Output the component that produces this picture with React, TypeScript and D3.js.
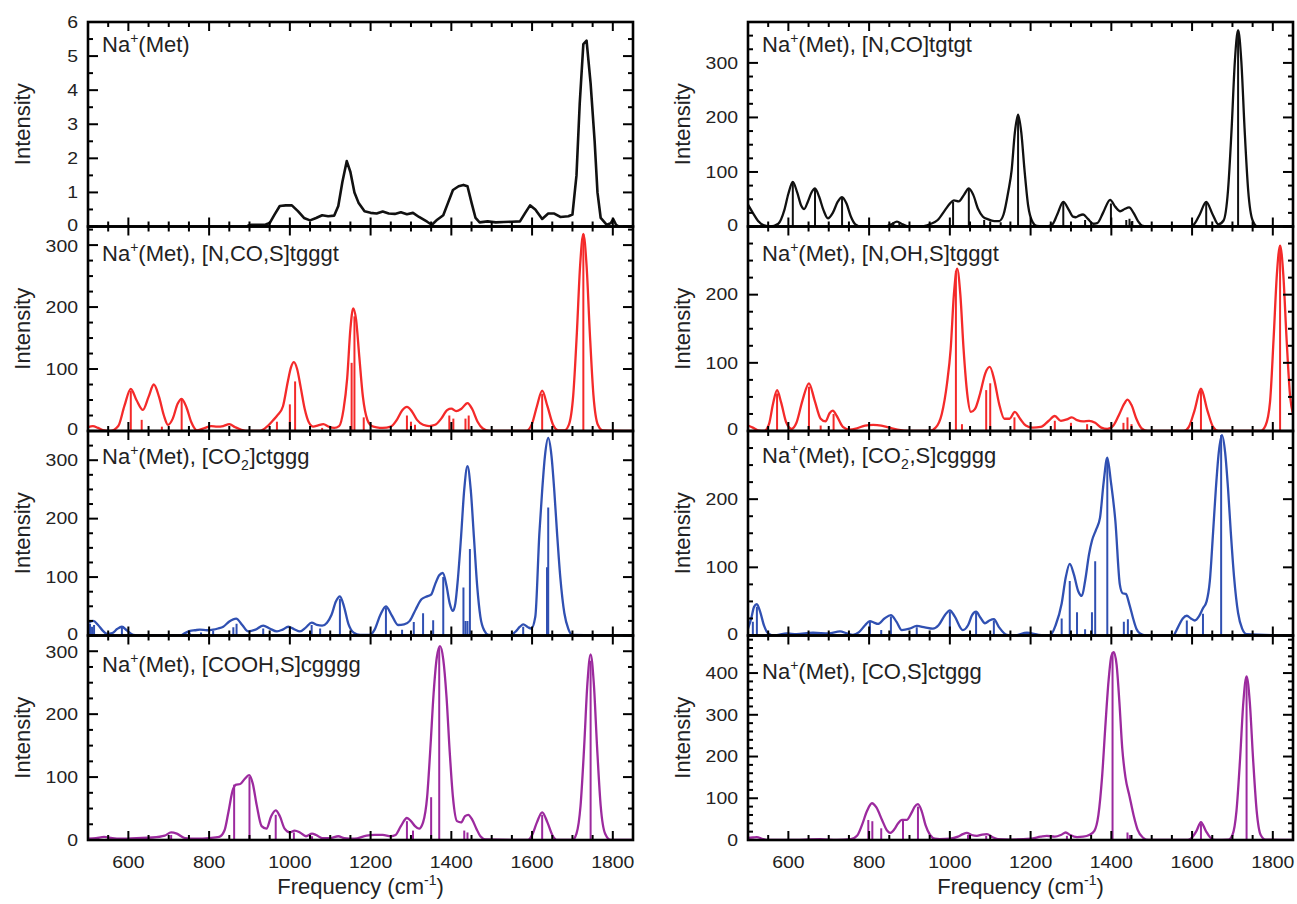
import React from "react";
import * as d3 from "d3";

type Pt = [number, number];

// Na+(Met) experimental IRMPD trace
const expMet: Pt[] = [
  [895, 0.02], [905, 0.05], [940, 0.06], [950, 0.1], [962, 0.35], [975, 0.6], [990, 0.62], [1005, 0.62],
  [1020, 0.45], [1035, 0.25], [1050, 0.18], [1065, 0.25], [1080, 0.33], [1095, 0.3], [1110, 0.32], [1120, 0.6],
  [1130, 1.3], [1141, 1.92], [1150, 1.6], [1160, 1.0], [1170, 0.7], [1185, 0.45], [1200, 0.4], [1215, 0.38],
  [1230, 0.44], [1245, 0.38], [1260, 0.37], [1275, 0.42], [1290, 0.36], [1305, 0.4], [1320, 0.28], [1340, 0.14],
  [1352, 0.05], [1365, 0.2], [1380, 0.33], [1392, 0.7], [1404, 1.07], [1418, 1.18], [1430, 1.22], [1440, 1.18],
  [1450, 0.7], [1460, 0.25], [1470, 0.12], [1490, 0.15], [1510, 0.12], [1530, 0.13], [1550, 0.14], [1570, 0.15],
  [1583, 0.4], [1595, 0.62], [1608, 0.5], [1625, 0.22], [1640, 0.38], [1655, 0.38], [1670, 0.28], [1690, 0.3],
  [1700, 0.35], [1710, 1.5], [1718, 3.6], [1727, 5.35], [1735, 5.45], [1745, 4.2], [1755, 2.5], [1762, 1.0],
  [1770, 0.25], [1785, 0.05], [1795, 0.1], [1801, 0.22], [1808, 0.05], [1815, 0.0],
];

// [N,CO]tgtgt
const tgtgtCurve: Pt[] = [
  [500, 40], [512, 25], [525, 10], [540, 2], [555, 0], [575, 5], [590, 30], [600, 60], [611, 82], [622, 62],
  [632, 38], [639, 32], [648, 45], [657, 62], [666, 70], [676, 55], [687, 30], [698, 15], [710, 25], [722, 45],
  [733, 54], [744, 42], [755, 18], [766, 4], [780, 0], [840, 0], [855, 4], [869, 9], [883, 4], [898, 0],
  [930, 0], [950, 4], [970, 12], [988, 30], [1000, 42], [1010, 48], [1022, 46], [1035, 58], [1047, 70], [1058, 58],
  [1070, 32], [1082, 18], [1095, 13], [1110, 10], [1122, 10], [1133, 22], [1145, 65], [1153, 103], [1161, 172],
  [1169, 205], [1177, 172], [1185, 103], [1194, 38], [1205, 8], [1215, 1], [1240, 0], [1255, 5], [1266, 22],
  [1281, 45], [1295, 30], [1305, 18], [1312, 17], [1320, 20], [1330, 22], [1342, 14], [1355, 5], [1365, 6],
  [1380, 26], [1397, 49], [1410, 36], [1422, 28], [1433, 32], [1444, 35], [1455, 25], [1466, 10], [1478, 1],
  [1495, 0], [1595, 0], [1605, 4], [1619, 22], [1635, 45], [1651, 22], [1665, 4], [1678, 11], [1689, 66],
  [1698, 180], [1706, 303], [1714, 360], [1722, 303], [1730, 180], [1739, 66], [1750, 11], [1762, 0], [1850, 0],
];
const tgtgtSticks: Pt[] = [
  [611, 80], [666, 70], [733, 54], [860, 8], [875, 8], [1008, 45], [1047, 70], [1085, 12], [1126, 8], [1169, 205],
  [1281, 43], [1335, 12], [1399, 42], [1437, 12], [1445, 14], [1452, 10], [1635, 45], [1714, 360],
];

// [N,CO,S]tgggt
const ncosCurve: Pt[] = [
  [500, 6], [512, 8], [525, 5], [540, 1], [555, 0], [575, 8], [590, 40], [606, 68], [620, 50], [636, 34],
  [650, 55], [663, 75], [676, 55], [688, 25], [698, 10], [710, 20], [722, 44], [732, 52], [744, 38], [756, 14],
  [770, 1], [790, 5], [805, 8], [820, 7], [835, 8], [850, 11], [865, 6], [880, 2], [900, 0], [926, 0],
  [945, 8], [958, 17], [970, 26], [983, 40], [995, 80], [1003, 103], [1010, 111], [1018, 100], [1027, 70],
  [1037, 35], [1047, 14], [1058, 7], [1070, 9], [1083, 11], [1096, 7], [1110, 5], [1122, 8], [1133, 35],
  [1142, 85], [1150, 165], [1157, 198], [1164, 180], [1172, 120], [1181, 55], [1192, 18], [1203, 8], [1215, 6],
  [1230, 5], [1250, 7], [1265, 18], [1278, 33], [1290, 39], [1302, 32], [1315, 18], [1330, 10], [1345, 8],
  [1360, 10], [1375, 20], [1390, 34], [1400, 36], [1412, 32], [1425, 36], [1440, 45], [1452, 35], [1465, 15],
  [1478, 4], [1495, 0], [1585, 0], [1600, 12], [1612, 40], [1625, 65], [1638, 40], [1652, 10], [1665, 1],
  [1680, 1], [1691, 10], [1702, 58], [1711, 159], [1719, 267], [1727, 318], [1735, 267], [1743, 159],
  [1752, 58], [1763, 10], [1775, 1], [1850, 0],
];
const ncosSticks: Pt[] = [
  [606, 65], [633, 18], [683, 7], [732, 50], [968, 15], [1000, 43], [1013, 80], [1080, 5], [1153, 110],
  [1160, 185], [1183, 22], [1290, 25], [1300, 15], [1310, 10], [1395, 25], [1405, 20], [1435, 20], [1443, 25],
  [1625, 60], [1727, 318],
];

// [N,OH,S]tgggt
const nohsCurve: Pt[] = [
  [500, 8], [512, 5], [525, 1], [540, 0], [552, 10], [562, 40], [572, 60], [582, 42], [595, 12], [608, 3],
  [620, 12], [635, 45], [651, 70], [665, 45], [680, 18], [692, 14], [702, 26], [710, 30], [720, 22], [735, 6],
  [750, 2], [770, 4], [790, 8], [810, 9], [830, 8], [850, 5], [870, 2], [900, 0], [950, 0], [965, 5],
  [980, 25], [993, 70], [1002, 120], [1010, 200], [1018, 238], [1026, 200], [1034, 120], [1043, 55], [1052, 28],
  [1062, 32], [1075, 55], [1088, 85], [1099, 94], [1110, 75], [1122, 40], [1135, 18], [1148, 18], [1161, 28],
  [1174, 18], [1188, 8], [1205, 5], [1225, 6], [1245, 15], [1260, 22], [1275, 15], [1290, 17], [1302, 20],
  [1315, 16], [1330, 14], [1345, 15], [1360, 12], [1375, 5], [1390, 3], [1405, 8], [1420, 25], [1432, 40],
  [1440, 46], [1450, 38], [1462, 18], [1475, 4], [1490, 0], [1580, 0], [1592, 6], [1606, 30], [1622, 62],
  [1638, 30], [1652, 6], [1665, 0], [1770, 0], [1782, 8], [1793, 42], [1802, 136], [1810, 229], [1818, 272],
  [1826, 229], [1834, 136], [1843, 50], [1850, 25],
];
const nohsSticks: Pt[] = [
  [572, 55], [651, 65], [680, 8], [712, 25], [1015, 235], [1030, 10], [1090, 60], [1100, 70], [1160, 20],
  [1260, 15], [1300, 12], [1340, 10], [1430, 12], [1440, 20], [1450, 10], [1622, 60], [1818, 272],
];

// [CO2-]ctggg
const co2Curve: Pt[] = [
  [500, 22], [513, 25], [525, 18], [537, 8], [547, 3], [560, 4], [572, 11], [584, 15], [596, 9], [612, 1],
  [630, 0], [728, 0], [740, 4], [753, 8], [765, 9], [777, 10], [795, 9], [810, 10], [822, 12], [835, 15],
  [850, 24], [867, 29], [882, 18], [897, 7], [915, 10], [934, 17], [950, 12], [968, 7], [982, 10], [996, 15],
  [1010, 11], [1025, 7], [1040, 14], [1054, 22], [1067, 18], [1080, 17], [1092, 22], [1103, 35], [1114, 58],
  [1124, 67], [1134, 50], [1145, 20], [1158, 5], [1174, 1], [1198, 1], [1210, 10], [1224, 35], [1238, 50],
  [1252, 35], [1268, 18], [1283, 19], [1297, 25], [1312, 45], [1326, 62], [1340, 67], [1350, 70], [1360, 88],
  [1370, 103], [1379, 107], [1388, 85], [1396, 55], [1404, 42], [1410, 55], [1416, 95], [1424, 168],
  [1432, 250], [1440, 290], [1448, 250], [1456, 168], [1464, 85], [1472, 32], [1482, 8], [1492, 1], [1545, 0],
  [1558, 6], [1570, 15], [1578, 19], [1590, 14], [1598, 12], [1608, 32], [1618, 174], [1625, 248],
  [1632, 308], [1640, 338], [1648, 308], [1655, 248], [1662, 174], [1670, 99], [1680, 38], [1690, 11],
  [1700, 1], [1850, 0],
];
const co2Sticks: Pt[] = [
  [505, 20], [510, 15], [515, 18], [584, 14], [752, 5], [780, 5], [810, 8], [860, 14], [868, 20], [934, 12],
  [1000, 10], [1054, 18], [1075, 12], [1124, 63], [1238, 48], [1278, 10], [1307, 23], [1330, 38], [1355, 26],
  [1380, 100], [1430, 82], [1435, 25], [1440, 25], [1446, 148], [1578, 15], [1637, 117], [1640, 219],
];

// [CO2-,S]cgggg
const co2sCurve: Pt[] = [
  [500, 10], [508, 25], [515, 42], [522, 46], [530, 35], [540, 14], [550, 3], [565, 0], [597, 3], [620, 2],
  [661, 4], [700, 3], [728, 6], [745, 3], [760, 1], [775, 5], [790, 15], [802, 21], [812, 19], [822, 17],
  [838, 25], [854, 30], [868, 20], [881, 8], [900, 10], [918, 14], [938, 12], [958, 10], [972, 15], [988, 30],
  [1000, 37], [1012, 28], [1032, 8], [1045, 15], [1055, 30], [1065, 35], [1076, 26], [1087, 18], [1098, 22],
  [1109, 24], [1122, 12], [1141, 1], [1160, 0], [1191, 4], [1220, 1], [1248, 0], [1262, 15], [1277, 47],
  [1287, 85], [1297, 105], [1307, 90], [1318, 65], [1327, 58], [1335, 80], [1345, 120], [1352, 139],
  [1362, 155], [1372, 173], [1381, 225], [1390, 261], [1399, 225], [1410, 168], [1421, 75], [1428, 62],
  [1436, 61], [1445, 45], [1454, 25], [1462, 10], [1471, 3], [1485, 0], [1553, 0], [1565, 12], [1577, 25],
  [1587, 29], [1597, 25], [1607, 22], [1617, 28], [1627, 40], [1636, 50], [1644, 80], [1652, 151],
  [1659, 216], [1666, 268], [1674, 294], [1682, 268], [1689, 216], [1696, 151], [1704, 86], [1714, 33],
  [1724, 10], [1735, 2], [1850, 0],
];
const co2sSticks: Pt[] = [
  [512, 20], [522, 42], [802, 20], [830, 8], [854, 28], [918, 12], [1000, 35], [1065, 33], [1109, 22],
  [1277, 25], [1297, 80], [1315, 34], [1335, 9], [1352, 34], [1360, 109], [1390, 258], [1431, 20], [1441, 24],
  [1450, 8], [1587, 22], [1627, 32], [1672, 294],
];

// [COOH,S]cgggg
const coohsCurve: Pt[] = [
  [500, 2], [520, 3], [540, 5], [560, 3], [580, 2], [620, 3], [660, 4], [690, 7], [706, 12], [720, 10],
  [740, 3], [770, 2], [800, 3], [825, 5], [838, 15], [848, 45], [858, 78], [867, 88], [877, 89], [888, 97],
  [899, 103], [908, 90], [918, 55], [930, 22], [942, 18], [954, 38], [965, 47], [975, 38], [987, 18],
  [1000, 12], [1012, 15], [1025, 12], [1040, 6], [1055, 10], [1065, 8], [1080, 3], [1100, 3], [1120, 6],
  [1135, 3], [1160, 2], [1190, 7], [1210, 8], [1230, 8], [1250, 6], [1262, 8], [1275, 22], [1290, 35],
  [1300, 30], [1310, 22], [1320, 18], [1330, 28], [1340, 68], [1348, 145], [1356, 232], [1364, 290],
  [1372, 308], [1380, 287], [1388, 228], [1396, 140], [1404, 68], [1414, 30], [1424, 28], [1434, 38],
  [1442, 40], [1452, 32], [1462, 18], [1472, 6], [1485, 1], [1590, 0], [1600, 8], [1612, 28], [1625, 44],
  [1638, 28], [1650, 8], [1662, 0], [1700, 0], [1710, 10], [1720, 54], [1729, 148], [1737, 248], [1745, 295],
  [1753, 248], [1761, 148], [1770, 54], [1781, 10], [1795, 0], [1850, 0],
];
const coohsSticks: Pt[] = [
  [706, 8], [862, 88], [900, 100], [965, 40], [1010, 12], [1055, 6], [1290, 30], [1305, 15], [1350, 68],
  [1370, 305], [1432, 15], [1440, 12], [1625, 40], [1745, 285],
];

// [CO,S]ctggg
const cosCurve: Pt[] = [
  [500, 5], [512, 6], [522, 7], [535, 3], [550, 0], [600, 0], [680, 2], [720, 0], [755, 2], [770, 10],
  [782, 35], [795, 70], [807, 88], [818, 78], [832, 48], [845, 22], [852, 17], [862, 25], [872, 40], [881, 48],
  [893, 48], [905, 65], [913, 80], [921, 86], [930, 70], [940, 35], [951, 12], [963, 3], [975, 2], [1000, 3],
  [1020, 8], [1032, 14], [1042, 17], [1054, 12], [1067, 10], [1080, 13], [1092, 14], [1105, 7], [1119, 2],
  [1150, 1], [1200, 3], [1225, 8], [1240, 10], [1260, 8], [1275, 12], [1287, 18], [1298, 12], [1315, 7],
  [1330, 8], [1345, 12], [1358, 22], [1368, 60], [1377, 150], [1385, 270], [1393, 380], [1400, 440],
  [1406, 450], [1413, 420], [1420, 330], [1427, 220], [1435, 150], [1445, 105], [1455, 60], [1465, 25],
  [1478, 6], [1492, 0], [1590, 0], [1600, 6], [1611, 22], [1622, 43], [1634, 22], [1645, 6], [1658, 0],
  [1690, 1], [1700, 12], [1710, 70], [1719, 196], [1727, 330], [1735, 392], [1743, 330], [1751, 196],
  [1760, 70], [1770, 12], [1782, 1], [1850, 0],
];
const cosSticks: Pt[] = [
  [798, 48], [808, 45], [830, 28], [884, 46], [921, 80], [1045, 12], [1090, 10], [1290, 10], [1403, 450],
  [1440, 18], [1446, 12], [1622, 40], [1735, 390],
];

const xTicks = [600, 800, 1000, 1200, 1400, 1600, 1800];
const yMaxes = [6, 375, 330, 300, 350, 300, 325, 490];
const yTickLabels = [
  [0, 1, 2, 3, 4, 5, 6], [0, 100, 200, 300], [0, 100, 200, 300], [0, 100, 200],
  [0, 100, 200, 300], [0, 100, 200], [0, 100, 200, 300], [0, 100, 200, 300, 400],
];
// title pieces: [text, mode, dx]
type Seg = [string, string, number?];
const panelTitles: Seg[][] = [
  [["Na", "n"], ["+", "sup"], ["(Met)", "n"]],
  [["Na", "n"], ["+", "sup"], ["(Met), [N,CO]tgtgt", "n"]],
  [["Na", "n"], ["+", "sup"], ["(Met), [N,CO,S]tgggt", "n"]],
  [["Na", "n"], ["+", "sup"], ["(Met), [N,OH,S]tgggt", "n"]],
  [["Na", "n"], ["+", "sup"], ["(Met), [CO", "n"], ["2", "sub"], ["-", "sup", -4], ["]ctggg", "n"]],
  [["Na", "n"], ["+", "sup"], ["(Met), [CO", "n"], ["2", "sub"], ["-", "sup", -4], [",S]cgggg", "n"]],
  [["Na", "n"], ["+", "sup"], ["(Met), [COOH,S]cgggg", "n"]],
  [["Na", "n"], ["+", "sup"], ["(Met), [CO,S]ctggg", "n"]],
];

const BLACK = "#111", RED = "#f42a2a", BLUE = "#3050b2", PURPLE = "#9c2a9e";

const panels = [
  { curve: expMet, sticks: [] as Pt[], color: BLACK, exp: true, titleY: 30 },
  { curve: tgtgtCurve, sticks: tgtgtSticks, color: BLACK, exp: false, titleY: 30 },
  { curve: ncosCurve, sticks: ncosSticks, color: RED, exp: false, titleY: 34 },
  { curve: nohsCurve, sticks: nohsSticks, color: RED, exp: false, titleY: 34 },
  { curve: co2Curve, sticks: co2Sticks, color: BLUE, exp: false, titleY: 33 },
  { curve: co2sCurve, sticks: co2sSticks, color: BLUE, exp: false, titleY: 32 },
  { curve: coohsCurve, sticks: coohsSticks, color: PURPLE, exp: false, titleY: 36 },
  { curve: cosCurve, sticks: cosSticks, color: PURPLE, exp: false, titleY: 43 },
];

const colX = [88, 748];
const plotW = 545;
const top = 22;
const panelH = 204.5;
const FONT = "'Liberation Sans', Arial, Helvetica, sans-serif";
const TICK_FS = 16;
const DIGIT_W = 10.8; // the original figure is stretched sideways a little

function titleSpans(segs: Seg[]) {
  let shift = 0;
  return segs.map(([t, m, dx], i) => {
    let target = 0, size = 22;
    if (m === "sup") { target = -9; size = 14; }
    if (m === "sub") { target = 6; size = 14; }
    const dy = target - shift;
    shift = target;
    return (
      <tspan key={i} dy={dy} dx={dx || 0} fontSize={size}>{t}</tspan>
    );
  });
}

function Panel({ i }: { i: number }) {
  const p = panels[i];
  const col = i % 2, row = Math.floor(i / 2);
  const x0 = colX[col], y0 = top + row * panelH;
  const x = d3.scaleLinear().domain([500, 1850]).range([x0, x0 + plotW]);
  const y = d3.scaleLinear().domain([0, yMaxes[i]]).range([y0 + panelH, y0]);
  const line = d3.line<Pt>()
    .x(d => x(d[0]))
    .y(d => y(d[1]))
    .curve(p.exp ? d3.curveLinear : d3.curveMonotoneX);

  const yMajor = i === 0 ? 1 : 100;
  const yMinor = i === 0 ? 0.5 : i === 7 ? 20 : 25;
  const yT = d3.range(0, yMaxes[i] + 1e-6, yMinor);
  const xT = d3.range(500, 1851, 50);
  const bottom = y0 + panelH;
  const clip = "clip" + i;

  // nudge labels that sit right next to the neighbouring panel's labels
  const labelY = (v: number) => {
    let yy = y(v);
    if (v === 0 && row < 3) yy -= 1.5;
    if (row > 0 && yy - y0 < 25) yy += 1.5;
    return yy;
  };

  return (
    <g>
      <defs>
        <clipPath id={clip}>
          <rect x={x0} y={y0} width={plotW} height={panelH} />
        </clipPath>
      </defs>
      <g clipPath={`url(#${clip})`}>
        {p.sticks.map((s, k) => (
          <line key={k} x1={x(s[0])} x2={x(s[0])} y1={y(0)} y2={y(s[1])}
            stroke={p.color} strokeWidth={2} />
        ))}
        <path d={line(p.curve) || ""} fill="none" stroke={p.color}
          strokeWidth={p.exp ? 2.6 : 2.3} strokeLinejoin="round" />
      </g>
      {/* ticks, all pointing inward */}
      {xT.map(v => {
        const len = v % 200 === 0 ? 9 : 5;
        return (
          <g key={"x" + v}>
            <line x1={x(v)} x2={x(v)} y1={y0} y2={y0 + len} stroke="#000" strokeWidth={2} />
            <line x1={x(v)} x2={x(v)} y1={bottom} y2={bottom - len} stroke="#000" strokeWidth={2} />
          </g>
        );
      })}
      {yT.map(v => {
        const major = Math.abs(v / yMajor - Math.round(v / yMajor)) < 1e-6;
        const len = major ? 10 : 5;
        return (
          <g key={"y" + v}>
            <line x1={x0} x2={x0 + len} y1={y(v)} y2={y(v)} stroke="#000" strokeWidth={2} />
            <line x1={x0 + plotW} x2={x0 + plotW - len} y1={y(v)} y2={y(v)} stroke="#000" strokeWidth={2} />
          </g>
        );
      })}
      <rect x={x0} y={y0} width={plotW} height={panelH} fill="none" stroke="#000" strokeWidth={2.6} />
      {yTickLabels[i].map(v => (
        <text key={"l" + v} x={x0 - 10} y={labelY(v)} dy="0.36em" textAnchor="end"
          fontSize={TICK_FS} fill="#222" textLength={String(v).length * DIGIT_W}
          lengthAdjust="spacingAndGlyphs">{v}</text>
      ))}
      <text transform={`translate(${x0 - 66},${y0 + panelH / 2}) rotate(-90)`} textAnchor="middle"
        dy="0.36em" fontSize={22} fill="#222">Intensity</text>
      <text x={x0 + 14} y={y0 + p.titleY} fontSize={22} fill="#222">{titleSpans(panelTitles[i])}</text>
      {row === 3 && (
        <g>
          {xTicks.map(v => (
            <text key={"xt" + v} x={x(v)} y={bottom + 28} textAnchor="middle" fontSize={TICK_FS} fill="#222"
              textLength={String(v).length * DIGIT_W} lengthAdjust="spacingAndGlyphs">{v}</text>
          ))}
          <text x={x0 + plotW / 2} y={bottom + 54} textAnchor="middle" fontSize={22} fill="#222">
            Frequency (cm<tspan dy={-9} fontSize={14}>-1</tspan><tspan dy={9}>)</tspan>
          </text>
        </g>
      )}
    </g>
  );
}

export default function App() {
  return (
    <div style={{ position: "absolute", left: 0, top: 0 }}>
      <svg width={1297} height={904} style={{ display: "block", background: "#fff" }} fontFamily={FONT}>
        {panels.map((_, i) => <Panel key={i} i={i} />)}
      </svg>
    </div>
  );
}
